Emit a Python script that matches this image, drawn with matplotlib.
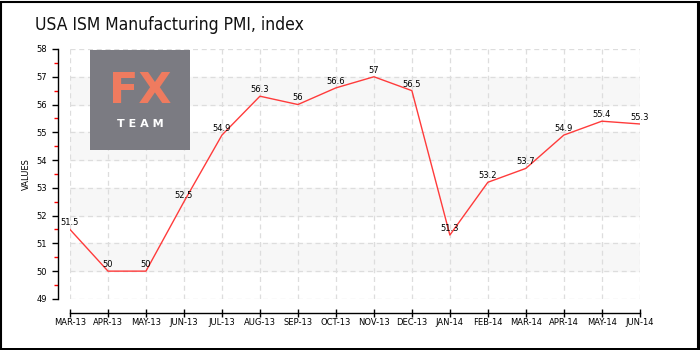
import matplotlib.pyplot as plt
from matplotlib.patches import Rectangle
from matplotlib.ticker import MultipleLocator

months = ['MAR-13', 'APR-13', 'MAY-13', 'JUN-13', 'JUL-13', 'AUG-13', 'SEP-13', 'OCT-13',
          'NOV-13', 'DEC-13', 'JAN-14', 'FEB-14', 'MAR-14', 'APR-14', 'MAY-14', 'JUN-14']
pmi = [51.5, 50, 50, 52.5, 54.9, 56.3, 56, 56.6, 57, 56.5, 51.3, 53.2, 53.7, 54.9, 55.4, 55.3]

fig = plt.figure(figsize=(7, 3.5), dpi=100)
ax = fig.add_axes([0.1, 0.146, 0.814, 0.714])

x = range(len(months))
ax.set_xlim(0, len(months) - 1)
ax.set_ylim(49, 58)

# alternating bands
for lo in range(50, 58, 2):
    ax.axhspan(lo, lo + 1, color='#f7f7f7', zorder=0)

ax.grid(True, color='#dddddd', linestyle=(0, (4, 3)), linewidth=0.9, zorder=1)
ax.set_axisbelow(True)

ax.plot(x, pmi, color='#ff3b3b', linewidth=1, zorder=3)
for i, v in zip(x, pmi):
    ax.annotate('%g' % v, (i, v), xytext=(0, 1.5), textcoords='offset points',
                ha='center', va='bottom', fontsize=6, color='black', zorder=4)

ax.set_xticks(list(x))
ax.set_xticklabels(months)
ax.yaxis.set_major_locator(MultipleLocator(1))
ax.yaxis.set_minor_locator(MultipleLocator(0.5))
ax.tick_params(axis='y', which='major', labelsize=6, length=4, width=1, color='black')
ax.tick_params(axis='y', which='minor', length=3, width=1, color='#ff0000')
ax.tick_params(axis='x', which='major', direction='inout', length=6, width=1, pad=0.5,
               labelsize=6)
ax.set_ylabel('VALUES', fontsize=6, labelpad=4)

for s in ['top', 'right']:
    ax.spines[s].set_visible(False)
ax.spines['left'].set_position(('outward', 9))
ax.spines['bottom'].set_position(('outward', 10))
ax.spines['left'].set_linewidth(1)
ax.spines['bottom'].set_linewidth(1)

fig.text(35 / 700, 1 - 30 / 350, 'USA ISM Manufacturing PMI, index', fontsize=12.5,
         ha='left', va='baseline', color='#111111', stretch='condensed')

# logo box
fig.patches.append(Rectangle((90 / 700, 1 - 150 / 350), 100 / 700, 100 / 350,
                             transform=fig.transFigure, facecolor='#7b7b82',
                             edgecolor='none', zorder=5))
fig.text(140 / 700, 1 - 91 / 350, 'FX', fontsize=31, color='#ef7b5f', ha='center',
         va='center', fontweight='bold', zorder=6)
fig.text(140 / 700, 1 - 124 / 350, 'T E A M', fontsize=8, color='white', ha='center',
         va='center', fontweight='bold', zorder=6)

# figure frame with heavier right/bottom edge
fig.patches.append(Rectangle((0.5 / 700, 0.5 / 350), 697 / 700, 348 / 350,
                             transform=fig.transFigure, facecolor='none',
                             edgecolor='black', linewidth=1.5, zorder=10))
fig.patches.append(Rectangle((697.5 / 700, 0), 2.5 / 700, 349 / 350,
                             transform=fig.transFigure, facecolor='black',
                             edgecolor='none', zorder=10))
fig.patches.append(Rectangle((0, 0), 699 / 700, 2.5 / 350,
                             transform=fig.transFigure, facecolor='black',
                             edgecolor='none', zorder=10))

fig.savefig('out.png', dpi=100)
